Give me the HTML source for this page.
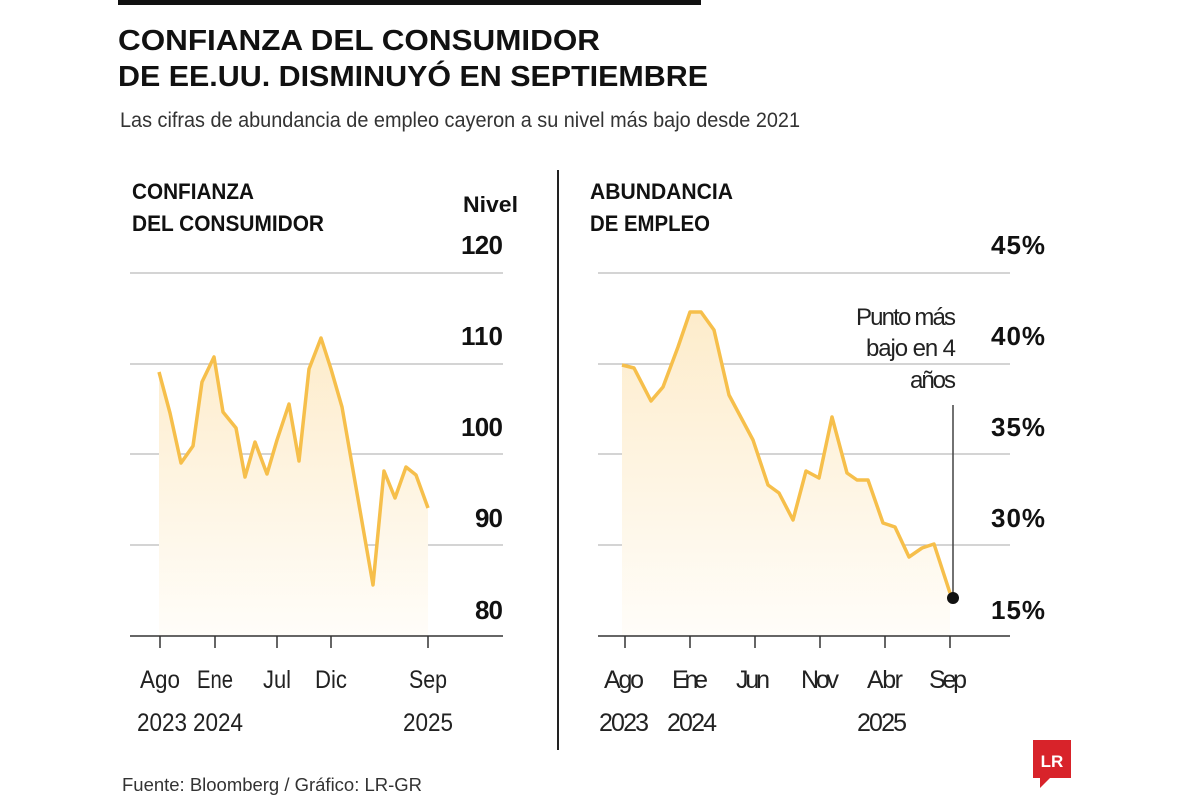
<!DOCTYPE html>
<html><head><meta charset="utf-8"><style>
body{margin:0;background:#fff;width:1200px;height:800px;overflow:hidden;font-family:"Liberation Sans",sans-serif}
svg text{font-family:"Liberation Sans",sans-serif}
</style></head><body>
<svg width="1200" height="800" xmlns="http://www.w3.org/2000/svg">
<defs><linearGradient id="g" x1="0" y1="0" x2="0" y2="1"><stop offset="0" stop-color="#fdeccb"/><stop offset="1" stop-color="#fffdf9"/></linearGradient></defs>
<rect x="118" y="0" width="583" height="5" fill="#111"/>
<text x="118" y="50" font-size="29" font-weight="bold" fill="#111" textLength="482" lengthAdjust="spacingAndGlyphs">CONFIANZA DEL CONSUMIDOR</text>
<text x="118" y="86" font-size="29" font-weight="bold" fill="#111" textLength="590" lengthAdjust="spacingAndGlyphs">DE EE.UU. DISMINUYÓ EN SEPTIEMBRE</text>
<text x="120" y="127" font-size="21" fill="#333" textLength="680" lengthAdjust="spacingAndGlyphs">Las cifras de abundancia de empleo cayeron a su nivel más bajo desde 2021</text>
<line x1="558" y1="170" x2="558" y2="750" stroke="#222" stroke-width="2"/>
<!-- left -->
<text x="132" y="199" font-size="22" font-weight="bold" fill="#111" textLength="122" lengthAdjust="spacingAndGlyphs">CONFIANZA</text>
<text x="132" y="231" font-size="22" font-weight="bold" fill="#111" textLength="192" lengthAdjust="spacingAndGlyphs">DEL CONSUMIDOR</text>
<text x="518" y="212" font-size="22" font-weight="bold" fill="#111" text-anchor="end" textLength="55" lengthAdjust="spacingAndGlyphs">Nivel</text>
<g stroke="#bbb" stroke-width="1.2"><line x1="130" y1="273" x2="503" y2="273"/><line x1="130" y1="364" x2="503" y2="364"/><line x1="130" y1="454" x2="503" y2="454"/><line x1="130" y1="545" x2="503" y2="545"/></g>
<polygon fill="url(#g)" points="159,372 170,413 181,463 193,446 202,382 214,357 223,412 236,428 245,477 255,442 267,474 277,440 289,404 299,461 309,369 321,338 331,369 342,407 373,585 384,471 395,498 406,467 416,475 428,508 428,636 159,636"/>
<polyline fill="none" stroke="#f6bf4b" stroke-width="3.5" stroke-linejoin="round" points="159,372 170,413 181,463 193,446 202,382 214,357 223,412 236,428 245,477 255,442 267,474 277,440 289,404 299,461 309,369 321,338 331,369 342,407 373,585 384,471 395,498 406,467 416,475 428,508"/>
<line x1="130" y1="636" x2="503" y2="636" stroke="#333" stroke-width="1.5"/>
<g stroke="#333" stroke-width="1.5"><line x1="160" y1="636" x2="160" y2="648"/><line x1="215" y1="636" x2="215" y2="648"/><line x1="277" y1="636" x2="277" y2="648"/><line x1="331" y1="636" x2="331" y2="648"/><line x1="428" y1="636" x2="428" y2="648"/></g>
<g font-size="26" font-weight="bold" fill="#111" text-anchor="end" lengthAdjust="spacingAndGlyphs"><text x="503" y="254" textLength="42">120</text><text x="503" y="345" textLength="42">110</text><text x="503" y="436" textLength="42">100</text><text x="503" y="527" textLength="28">90</text><text x="503" y="619" textLength="28">80</text></g>
<g font-size="25" fill="#222" text-anchor="middle"><text x="160" y="688" textLength="40" lengthAdjust="spacingAndGlyphs">Ago</text><text x="215" y="688" textLength="36" lengthAdjust="spacingAndGlyphs">Ene</text><text x="277" y="688" textLength="28" lengthAdjust="spacingAndGlyphs">Jul</text><text x="331" y="688" textLength="32" lengthAdjust="spacingAndGlyphs">Dic</text><text x="428" y="688" textLength="38" lengthAdjust="spacingAndGlyphs">Sep</text>
<text x="162" y="731" textLength="50" lengthAdjust="spacingAndGlyphs">2023</text><text x="218" y="731" textLength="50" lengthAdjust="spacingAndGlyphs">2024</text><text x="428" y="731" textLength="50" lengthAdjust="spacingAndGlyphs">2025</text></g>
<!-- right -->
<text x="590" y="199" font-size="22" font-weight="bold" fill="#111" textLength="143" lengthAdjust="spacingAndGlyphs">ABUNDANCIA</text>
<text x="590" y="231" font-size="22" font-weight="bold" fill="#111" textLength="120" lengthAdjust="spacingAndGlyphs">DE EMPLEO</text>
<g stroke="#bbb" stroke-width="1.2"><line x1="598" y1="273" x2="1010" y2="273"/><line x1="598" y1="364" x2="1010" y2="364"/><line x1="598" y1="454" x2="1010" y2="454"/><line x1="598" y1="545" x2="1010" y2="545"/></g>
<polygon fill="url(#g)" points="622,365 634,368 651,401 663,387 678,347 690,312 701,312 714,330 729,395 753,440 768,485 779,493 793,520 806,471 819,478 832,417 847,473 857,480 868,480 883,523 895,527 909,557 922,548 934,544 950,593 950,636 622,636"/>
<polyline fill="none" stroke="#f6bf4b" stroke-width="3.5" stroke-linejoin="round" points="622,365 634,368 651,401 663,387 678,347 690,312 701,312 714,330 729,395 753,440 768,485 779,493 793,520 806,471 819,478 832,417 847,473 857,480 868,480 883,523 895,527 909,557 922,548 934,544 950,593"/>
<line x1="953" y1="405" x2="953" y2="598" stroke="#444" stroke-width="1.5"/>
<circle cx="953" cy="598" r="6" fill="#111"/>
<g font-size="24" fill="#222" text-anchor="end" lengthAdjust="spacingAndGlyphs"><text x="956" y="325" textLength="100">Punto más</text><text x="956" y="356" textLength="90">bajo en 4</text><text x="956" y="388" textLength="46">años</text></g>
<line x1="598" y1="636" x2="1010" y2="636" stroke="#333" stroke-width="1.5"/>
<g stroke="#333" stroke-width="1.5"><line x1="625" y1="636" x2="625" y2="648"/><line x1="690" y1="636" x2="690" y2="648"/><line x1="755" y1="636" x2="755" y2="648"/><line x1="820" y1="636" x2="820" y2="648"/><line x1="885" y1="636" x2="885" y2="648"/><line x1="950" y1="636" x2="950" y2="648"/></g>
<g font-size="26" font-weight="bold" fill="#111" text-anchor="end" lengthAdjust="spacingAndGlyphs"><text x="1045" y="254" textLength="54">45%</text><text x="1045" y="345" textLength="54">40%</text><text x="1045" y="436" textLength="54">35%</text><text x="1045" y="527" textLength="54">30%</text><text x="1045" y="619" textLength="54">15%</text></g>
<g font-size="25" fill="#222" text-anchor="middle" lengthAdjust="spacingAndGlyphs"><text x="624" y="688" textLength="40">Ago</text><text x="690" y="688" textLength="36">Ene</text><text x="753" y="688" textLength="34">Jun</text><text x="820" y="688" textLength="38">Nov</text><text x="885" y="688" textLength="36">Abr</text><text x="948" y="688" textLength="38">Sep</text>
<text x="624" y="731" textLength="50">2023</text><text x="692" y="731" textLength="50">2024</text><text x="882" y="731" textLength="50">2025</text></g>
<text x="122" y="791" font-size="18" fill="#333" textLength="300" lengthAdjust="spacingAndGlyphs">Fuente: Bloomberg / Gráfico: LR-GR</text>
<rect x="1033" y="740" width="38" height="38" fill="#d8232a"/>
<polygon points="1040,778 1050,778 1040,788" fill="#d8232a"/>
<text x="1052" y="767" font-size="17" font-weight="bold" fill="#fff" text-anchor="middle" font-family="Liberation Serif">LR</text>
</svg>
</body></html>
